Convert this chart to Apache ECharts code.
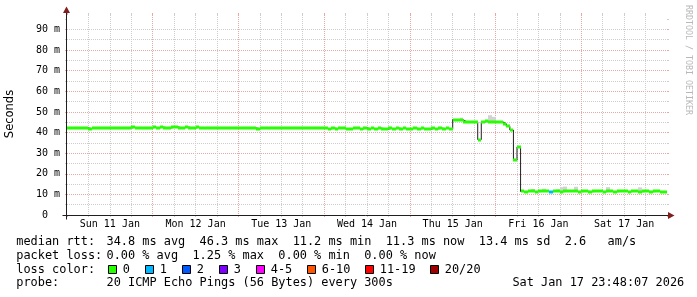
<!DOCTYPE html>
<html><head><meta charset="utf-8">
<script src="https://cdn.jsdelivr.net/npm/echarts@6/dist/echarts.min.js"></script>
<style>html,body{margin:0;padding:0;background:#fff}#c{width:697px;height:297px}</style>
</head><body><div id="c"></div>
<script>
// ---------- data ----------
// x: hours since Sun 11 Jan 00:00, one bin per hour (0..167)
const dayLabels = ['Sun 11 Jan','Mon 12 Jan','Tue 13 Jan','Wed 14 Jan','Thu 15 Jan','Fri 16 Jan','Sat 17 Jan'];
const yUnit = ' m';
const yMaxMs = 97;
const yMajorTicks = [0,10,20,30,40,50,60,70,80,90];
const yMinorTicks = [0,5,10,15,20,25,30,35,40,45,50,55,60,65,70,75,80,85,90,95];
const xMajorTicks = [0,24,48,72,96,120,144];
// median rtt per hour, ms
const medianRtt = [
  42.2,42.4,42.1,42.3,42.0,42.2,41.9,42.1,42.3,42.2,42.0,42.1,42.4,42.2,42.3,42.1,42.0,42.2,42.5,42.3,42.1,42.4,42.2,42.3,
  42.5,42.3,42.6,42.4,42.2,42.5,42.7,42.4,42.3,42.6,42.4,42.2,42.5,42.3,42.1,42.4,42.2,42.3,42.1,42.4,42.2,42.0,42.3,42.1,
  42.2,42.0,42.3,42.1,42.2,41.9,42.1,42.3,42.0,42.2,42.4,42.1,42.3,42.2,42.0,42.1,42.3,42.2,42.4,42.1,42.0,42.2,42.3,42.1,
  42.0,41.8,42.1,41.9,42.2,42.0,41.7,41.9,42.1,42.0,41.8,42.2,41.9,42.0,41.8,42.1,41.9,41.7,42.0,41.8,42.1,41.9,42.0,41.8,
  41.9,42.1,41.8,42.0,41.9,41.7,42.0,41.8,42.1,41.9,42.0,41.8,
  46.3,46.2,46.1,
  45.2,45.0,45.3,45.1,36.6,45.2,45.4,45.1,45.3,45.0,45.2,
  44.3,43.0,41.2,26.5,33.0,
  11.4,11.3,11.5,11.4,11.3,11.4,11.6,11.4,11.3,11.5,11.4,11.3,11.5,11.4,11.6,11.4,11.3,11.4,11.5,11.3,11.4,
  11.6,11.4,11.3,11.5,11.4,11.3,11.4,11.5,11.4,11.3,11.5,11.4,11.3,11.4,11.5,11.3,11.4,11.4,11.2,11.3
];
// smoke (highest ping) where it shows above the median: [hour, ms]
const smokeHours = [110, 118, 119, 130, 133, 137, 138, 139, 142, 151, 160];
const smokeHigh  = [47.2, 48.4, 47.6, 12.6, 12.8, 12.4, 13.5, 13.8, 13.7, 13.5, 13.4];
// hours with packet loss and the number of lost pings
const lossHours = [135];
const lossCounts = [1];
// loss colour legend
const lossLabels = ['0','1','2','3','4-5','6-10','11-19','20/20'];
const lossFrom   = [0, 1, 2, 3, 4, 6, 11, 20];
const lossColors = ['#26ff00','#00b8ff','#0059ff','#7e00ff','#ff00ff','#ff5500','#ff0000','#a10000'];
// legend texts
const rttStats  = ['34.8 ms avg','46.3 ms max','11.2 ms min','11.3 ms now','13.4 ms sd','2.6   am/s'];
const lossStats = ['0.00 % avg','1.25 % max','0.00 % min','0.00 % now'];
const probeText = '20 ICMP Echo Pings (56 Bytes) every 300s';
const stampText = 'Sat Jan 17 23:48:07 2026';

// ---------- chart ----------
const MONO = '"DejaVu Sans Mono", monospace';
const MAJOR = '#eba6a6', MINOR = '#cdcdcd';
const nHours = medianRtt.length;
const lossOf = {};
lossHours.forEach((h, i) => { lossOf[h] = lossCounts[i]; });
function lossColor(n) {
  for (let i = lossFrom.length - 1; i >= 0; i--) if (n >= lossFrom[i]) return lossColors[i];
  return lossColors[0];
}
const bandData = medianRtt.map((v, h) => [h, v, lossOf[h] || 0]);
const lineData = medianRtt.map((v, h) => [h, v]);
lineData.push([nHours, medianRtt[nHours - 1]]);
const smokeData = smokeHours.map((h, i) => [h, smokeHigh[i], medianRtt[h]]);

function binRect(api, yTop, yBot) {
  const h = api.value(0);
  const a = api.coord([h, yTop]), b = api.coord([h + 1, yBot]);
  const x0 = Math.round(a[0]), x1 = Math.round(b[0]);
  return { x: x0, y: a[1], width: x1 - x0, height: b[1] - a[1] };
}

const chart = echarts.init(document.getElementById('c'), null, { renderer: 'canvas' });
const dotted = (c) => ({ color: c, width: 1, type: [1, 1] });
const noAxis = { show: false, onZero: false };

chart.setOption({
  animation: false,
  backgroundColor: '#fff',
  grid: { left: 67, right: 30, top: 15, bottom: 82, containLabel: false, outerBoundsMode: 'none' },
  xAxis: [
    { type: 'value', min: 0, max: nHours, interval: 24, position: 'bottom',
      axisLine: noAxis, axisLabel: { show: false },
      axisTick: { show: true, length: 2, lineStyle: { color: MAJOR } },
      minorTick: { show: true, splitNumber: 4, length: 2, lineStyle: { color: MINOR } },
      splitLine: { show: true, showMinLine: false, showMaxLine: false, lineStyle: dotted(MAJOR) },
      minorSplitLine: { show: true, lineStyle: dotted(MINOR) } },
    { type: 'value', min: 0, max: nHours, interval: 12, position: 'bottom',
      axisLine: noAxis, axisTick: { show: false }, splitLine: { show: false },
      axisLabel: { show: true, margin: 4, color: '#000', fontFamily: MONO, fontSize: 10,
        showMinLabel: true, showMaxLabel: true, hideOverlap: false,
        formatter: (v) => (v % 24 === 12 ? dayLabels[(v - 12) / 24] : '') } },
    { type: 'value', min: 0, max: nHours, interval: 24, position: 'top',
      axisLine: noAxis, axisLabel: { show: false }, splitLine: { show: false },
      axisTick: { show: true, length: 2, customValues: xMajorTicks, lineStyle: { color: MAJOR } },
      minorTick: { show: true, splitNumber: 4, length: 2, lineStyle: { color: MINOR } } }
  ],
  yAxis: [
    { type: 'value', min: 0, max: yMaxMs, interval: 5, position: 'left',
      axisLine: noAxis, axisLabel: { show: false },
      axisTick: { show: true, length: 2, customValues: yMinorTicks, lineStyle: { color: MINOR } },
      splitLine: { show: true, showMinLine: false, showMaxLine: false, lineStyle: dotted(MINOR) } },
    { type: 'value', min: 0, max: yMaxMs, interval: 10, position: 'left',
      axisLine: noAxis,
      axisTick: { show: true, length: 2, customValues: yMajorTicks, lineStyle: { color: MAJOR } },
      axisLabel: { show: true, margin: 7, color: '#000', fontFamily: MONO, fontSize: 10,
        formatter: (v) => (v === 0 ? '0  ' : (v % 10 === 0 ? v + yUnit : '')) },
      splitLine: { show: true, showMinLine: false, showMaxLine: false, lineStyle: dotted(MAJOR) } },
    { type: 'value', min: 0, max: yMaxMs, interval: 5, position: 'right',
      axisLine: noAxis, axisLabel: { show: false }, splitLine: { show: false },
      axisTick: { show: true, length: 2, customValues: yMinorTicks, lineStyle: { color: MINOR } } },
    { type: 'value', min: 0, max: yMaxMs, interval: 10, position: 'right',
      axisLine: noAxis, axisLabel: { show: false }, splitLine: { show: false },
      axisTick: { show: true, length: 2, customValues: yMajorTicks, lineStyle: { color: MAJOR } } }
  ],
  series: [
    { type: 'custom', name: 'smoke', xAxisIndex: 0, yAxisIndex: 1, z: 2, data: smokeData,
      encode: { x: 0, y: 1 },
      renderItem: (params, api) => ({ type: 'rect', shape: binRect(api, api.value(1), api.value(2)),
        style: { fill: '#d2d2d2' } }) },
    { type: 'line', name: 'median', xAxisIndex: 0, yAxisIndex: 1, z: 3, data: lineData,
      step: 'end', symbol: 'none', lineStyle: { color: '#202020', width: 1 } },
    { type: 'custom', name: 'loss band', xAxisIndex: 0, yAxisIndex: 1, z: 4, data: bandData,
      encode: { x: 0, y: 1 },
      renderItem: (params, api) => {
        const h = api.value(0), v = api.value(1);
        const a = api.coord([h, v]), b = api.coord([h + 1, v]);
        const x0 = Math.round(a[0]), x1 = Math.round(b[0]);
        return { type: 'rect', shape: { x: x0, y: Math.round(a[1]) - 1.5, width: x1 - x0, height: 3 },
          style: { fill: lossColor(api.value(2)) } };
      } }
  ]
});

// ---------- decorations: axes with arrows, titles, legend ----------
const o = chart.convertToPixel({ xAxisIndex: 0, yAxisIndex: 1 }, [0, 0]);
const e = chart.convertToPixel({ xAxisIndex: 0, yAxisIndex: 1 }, [nHours, yMaxMs]);
const ax = Math.round(o[0]) - 0.5, ay = Math.round(o[1]) + 0.5;
const ex = Math.round(e[0]), ey = Math.round(e[1]);
const AXIS = '#1f1f1f', ARROW = '#801f1f';
const LF = '11.9px ' + MONO;
const g = [];
g.push({ type: 'line', shape: { x1: ax - 4, y1: ay, x2: ex + 2, y2: ay }, style: { stroke: AXIS, lineWidth: 1 }, z: 10 });
g.push({ type: 'polygon', shape: { points: [[ex + 1, ay - 3.5], [ex + 7.5, ay], [ex + 1, ay + 3.5]] }, style: { fill: ARROW }, z: 11 });
g.push({ type: 'line', shape: { x1: ax, y1: ay + 4, x2: ax, y2: ey - 2 }, style: { stroke: AXIS, lineWidth: 1 }, z: 10 });
g.push({ type: 'polygon', shape: { points: [[ax - 3.5, ey - 2], [ax, ey - 8.5], [ax + 3.5, ey - 2]] }, style: { fill: ARROW }, z: 11 });
g.push({ type: 'text', x: 10.5, y: 114, rotation: Math.PI / 2,
  style: { text: 'Seconds', font: '11.5px "DejaVu Sans", sans-serif', fill: '#000', align: 'center', verticalAlign: 'middle' } });
g.push({ type: 'text', x: 688, y: 60, rotation: -Math.PI / 2,
  style: { text: 'RRDTOOL / TOBI OETIKER', font: '8.3px ' + MONO, fill: '#b8b8b8', align: 'center', verticalAlign: 'middle' } });
const rows = [241.5, 255.5, 269.5, 283.3];
const colX = 106.5, labX = 16.3;
const txt = (s, x, y, al) => ({ type: 'text', x: x, y: y,
  style: { text: s, font: LF, fill: '#000', align: al || 'left', verticalAlign: 'middle' } });
g.push(txt('median rtt:', labX, rows[0]));
g.push(txt(rttStats.join('  '), colX, rows[0]));
g.push(txt('packet loss:', labX, rows[1]));
g.push(txt(lossStats.join('  '), colX, rows[1]));
g.push(txt('loss color:', labX, rows[2]));
const boxX = [108.5, 145.5, 182.5, 219.5, 256.5, 307.5, 365.5, 430.5];
lossLabels.forEach((lab, i) => {
  g.push({ type: 'rect', shape: { x: boxX[i], y: 265.5, width: 8, height: 8 },
    style: { fill: lossColors[i], stroke: '#000', lineWidth: 1 } });
  g.push(txt(lab, boxX[i] + 14.3, rows[2]));
});
g.push(txt('probe:', labX, rows[3]));
g.push(txt(probeText, colX, rows[3]));
g.push(txt(stampText, 512.4, rows[3]));
chart.setOption({ graphic: g });
</script>
</body></html>
